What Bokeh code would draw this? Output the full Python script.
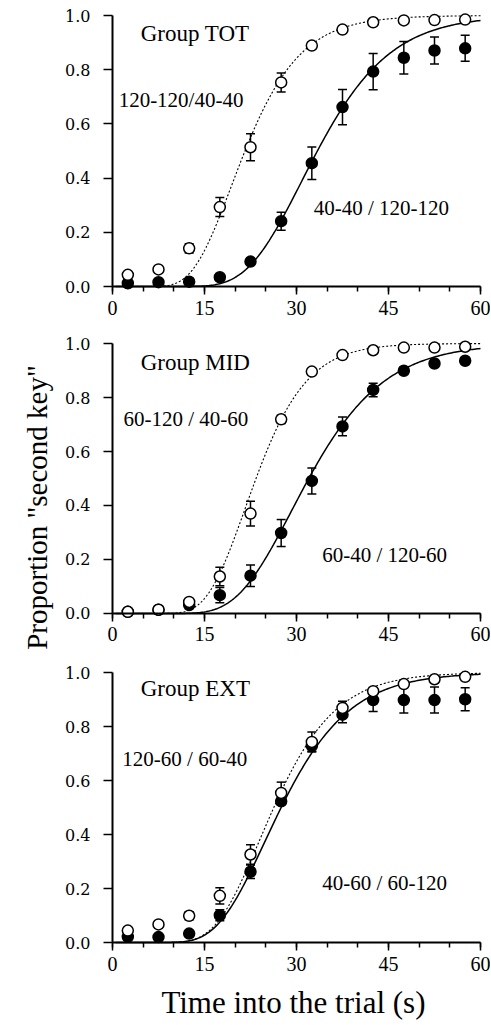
import math
import numpy as np
from bokeh.plotting import figure
from bokeh.layouts import column
from bokeh.models import (Range1d, FixedTicker, SingleIntervalTicker, NumeralTickFormatter,
                          Label, Whisker, ColumnDataSource, TeeHead)
from bokeh.embed import file_html
from bokeh.resources import INLINE

# ---------------- data ----------------
time_bins = [2.5, 7.5, 12.5, 17.5, 22.5, 27.5, 32.5, 37.5, 42.5, 47.5, 52.5, 57.5]

tot_open = [0.043, 0.063, 0.141, 0.293, 0.514, 0.753, 0.889, 0.948, 0.975, 0.982, 0.983, 0.985]
tot_open_err = [0.010, 0.010, 0.017, 0.035, 0.050, 0.035, 0.012, 0.008, 0.006, 0.005, 0.005, 0.005]
tot_filled = [0.012, 0.016, 0.018, 0.034, 0.092, 0.241, 0.455, 0.662, 0.793, 0.844, 0.871, 0.879]
tot_filled_err = [0.005, 0.005, 0.005, 0.008, 0.012, 0.033, 0.060, 0.065, 0.067, 0.060, 0.050, 0.048]

mid_open = [0.006, 0.014, 0.043, 0.137, 0.370, 0.719, 0.896, 0.957, 0.975, 0.985, 0.985, 0.988]
mid_open_err = [0.005, 0.005, 0.010, 0.034, 0.046, 0.015, 0.010, 0.008, 0.005, 0.005, 0.005, 0.005]
mid_filled = [0.006, 0.014, 0.031, 0.068, 0.140, 0.298, 0.491, 0.693, 0.828, 0.899, 0.926, 0.936]
mid_filled_err = [0.005, 0.005, 0.008, 0.028, 0.040, 0.050, 0.048, 0.035, 0.025, 0.012, 0.012, 0.010]

ext_open = [0.044, 0.067, 0.099, 0.173, 0.326, 0.554, 0.743, 0.869, 0.931, 0.957, 0.975, 0.984]
ext_open_err = [0.010, 0.012, 0.015, 0.030, 0.036, 0.040, 0.037, 0.025, 0.012, 0.010, 0.008, 0.006]
ext_filled = [0.021, 0.020, 0.033, 0.101, 0.262, 0.523, 0.728, 0.844, 0.898, 0.898, 0.898, 0.901]
ext_filled_err = [0.005, 0.005, 0.008, 0.020, 0.025, 0.012, 0.020, 0.030, 0.042, 0.048, 0.048, 0.043]

# fitted psychometric curves (cumulative log-normal): median (s), log-sd
fit_median_open = [21.6, 23.4, 26.3]
fit_logsd_open = [0.3275, 0.279, 0.299]
fit_median_filled = [33.4, 32.0, 27.5]
fit_logsd_filled = [0.28, 0.301, 0.315]

group_names = ["Group TOT", "Group MID", "Group EXT"]
open_labels = ["120-120/40-40", "60-120 / 40-60", "120-60 / 60-40"]
filled_labels = ["40-40 / 120-120", "60-40 / 120-60", "40-60 / 60-120"]

y_ticks = [0.0, 0.2, 0.4, 0.6, 0.8, 1.0]
y_title = 'Proportion "second key"'
x_title = "Time into the trial (s)"

opens = [(tot_open, tot_open_err), (mid_open, mid_open_err), (ext_open, ext_open_err)]
filleds = [(tot_filled, tot_filled_err), (mid_filled, mid_filled_err), (ext_filled, ext_filled_err)]

# ---------------- layout / styling ----------------
SERIF = "Liberation Serif"
FIG_W = 490
X_RANGE = (-18.26, 61.63)                      # axis 0..60 drawn inside
fig_heights = [325, 333, 366]
y_ranges = [(-0.1439, 1.0554), (-0.1667, 1.0667), (-0.3037, 1.0519)]
group_pos = [(4.6, 0.934), (4.6, 0.93), (4.6, 0.94)]
open_pos = [(1.0, 0.69), (1.8, 0.72), (1.6, 0.68)]
filled_pos = [(32.8, 0.29), (34.2, 0.215), (34.2, 0.22)]

curve_x = np.arange(0.5, 60.01, 0.25)


def lognorm_cdf(x, median, logsd):
    return np.array([0.5 * (1.0 + math.erf((math.log(v) - math.log(median)) / (logsd * math.sqrt(2.0))))
                     for v in x])


figs = []
for i in range(3):
    p = figure(width=FIG_W, height=fig_heights[i], output_backend="svg", toolbar_location=None,
               x_range=Range1d(*X_RANGE), y_range=Range1d(*y_ranges[i]),
               min_border=0, min_border_left=0, min_border_right=0, min_border_top=0,
               min_border_bottom=0, background_fill_color="white", border_fill_color="white")
    p.outline_line_color = None
    p.grid.visible = False

    # axes (drawn at x=0 / y=0 inside the frame)
    xa = p.xaxis[0]
    xa.fixed_location = 0
    xa.bounds = (0, 60)
    xa.ticker = SingleIntervalTicker(interval=15, num_minor_ticks=3)
    xa.axis_line_width = 2
    xa.major_tick_line_width = 1.5
    xa.minor_tick_line_width = 1.5
    xa.major_tick_out = 8
    xa.major_tick_in = 0
    xa.minor_tick_out = 5
    xa.minor_tick_in = 0
    xa.major_label_standoff = 6
    xa.major_label_text_font = SERIF
    xa.major_label_text_font_size = "20px"
    xa.major_label_text_color = "black"

    ya = p.yaxis[0]
    ya.fixed_location = 0
    ya.bounds = (0, 1)
    ya.ticker = FixedTicker(ticks=y_ticks)
    ya.formatter = NumeralTickFormatter(format="0.0")
    ya.axis_line_width = 2
    ya.major_tick_line_width = 1.5
    ya.major_tick_out = 9
    ya.major_tick_in = 0
    ya.minor_tick_line_color = None
    ya.major_label_standoff = 13
    ya.major_label_text_font = "DejaVu Serif"
    ya.major_label_text_font_size = "16px"
    ya.major_label_text_color = "black"

    # fitted curves
    p.line(curve_x, lognorm_cdf(curve_x, fit_median_filled[i], fit_logsd_filled[i]),
           line_color="black", line_width=1.5)
    p.line(curve_x, lognorm_cdf(curve_x, fit_median_open[i], fit_logsd_open[i]),
           line_color="black", line_width=1.1, line_dash="2 2")

    # error bars + markers
    for (vals, errs), filled in ((filleds[i], True), (opens[i], False)):
        src = ColumnDataSource(dict(x=time_bins, y=vals,
                                    upper=[v + e for v, e in zip(vals, errs)],
                                    lower=[v - e for v, e in zip(vals, errs)]))
        w = Whisker(source=src, base="x", upper="upper", lower="lower", level="underlay",
                    line_width=1.5, line_color="black",
                    upper_head=TeeHead(size=9, line_width=1.5, line_color="black"),
                    lower_head=TeeHead(size=9, line_width=1.5, line_color="black"))
        p.add_layout(w)
        p.scatter("x", "y", source=src, size=11, marker="circle", line_color="black", line_width=1.5,
                  fill_color="black" if filled else "white")

    # panel texts
    for txt, (tx, ty), fs in ((group_names[i], group_pos[i], "23px"),
                              (open_labels[i], open_pos[i], "21px"),
                              (filled_labels[i], filled_pos[i], "21px")):
        p.add_layout(Label(x=tx, y=ty, text=txt, text_align="left", text_baseline="middle",
                           text_font=SERIF, text_font_size=fs, text_color="black"))
    figs.append(p)

# shared axis titles
figs[1].add_layout(Label(x=-12.39, y=0.3926, text=y_title, angle=math.pi / 2, text_align="center",
                         text_baseline="middle", text_font=SERIF, text_font_size="29px",
                         text_color="black"))
figs[2].add_layout(Label(x=29.5, y=-0.222, text=x_title, text_align="center", text_baseline="middle",
                         text_font=SERIF, text_font_size="31px", text_color="black"))

layout = column(*figs, spacing=0)
open("out.html", "w").write(file_html(layout, INLINE))
